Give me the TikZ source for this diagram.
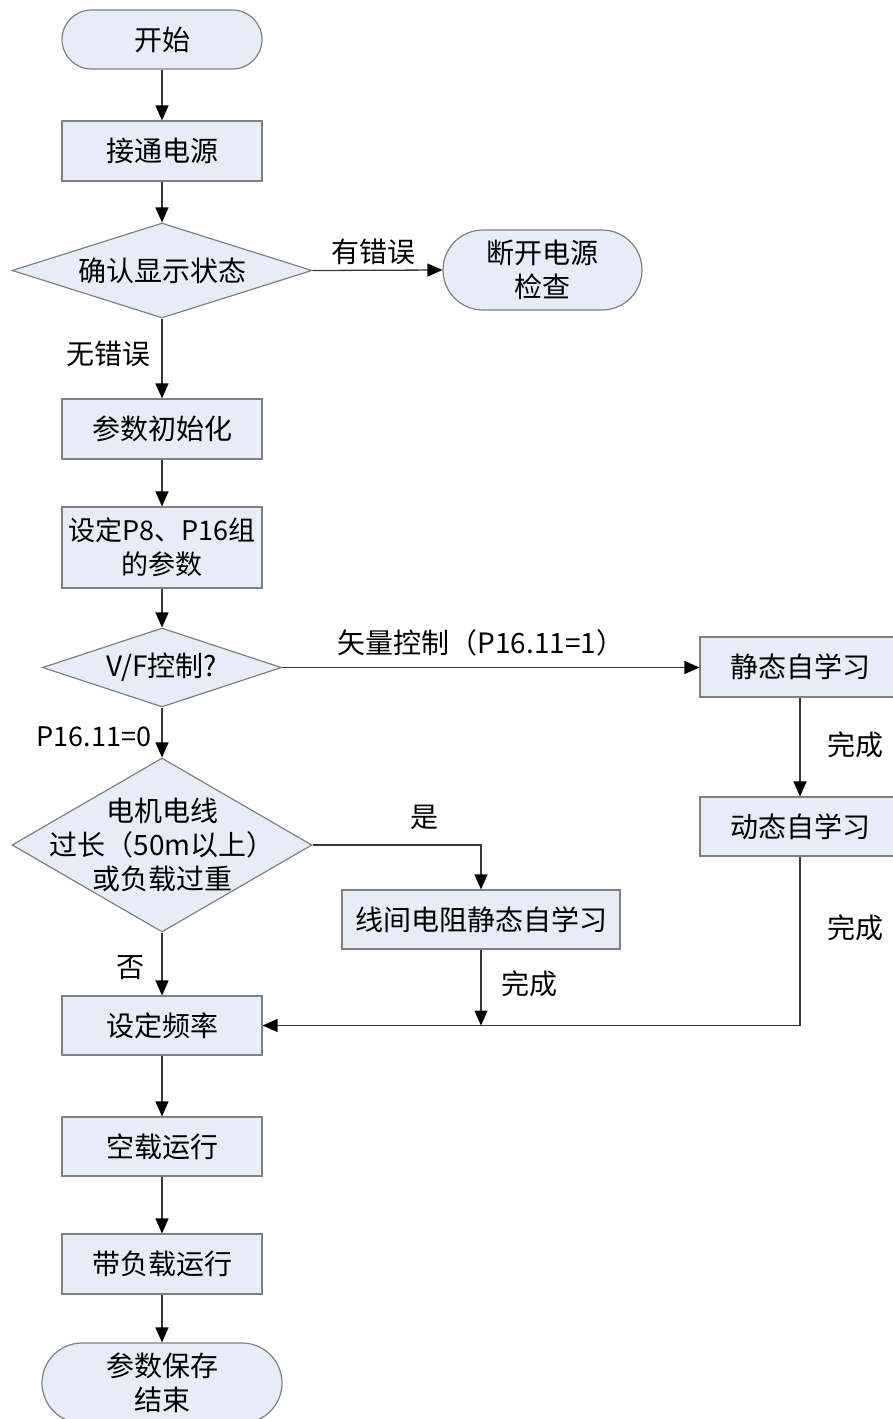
\documentclass[tikz,border=0pt]{standalone}
\usepackage{fontspec}
\newfontfamily\cjk{Noto Sans CJK SC}
\usetikzlibrary{arrows.meta,shapes.geometric}
\definecolor{boxfill}{RGB}{230,237,247}
\definecolor{boxline}{RGB}{128,128,128}
\definecolor{connc}{RGB}{55,55,55}
\begin{document}
\begin{tikzpicture}[x=1pt,y=-1pt,
  every node/.style={font=\cjk\fontsize{28}{34}\selectfont, text=black},
  proc/.style={draw=boxline, fill=boxfill, line width=1.2pt, minimum width=200pt, minimum height=60pt, inner sep=0pt, align=center},
  term/.style={proc},
  dia/.style={draw=boxline, fill=boxfill, line width=1.2pt, diamond, inner sep=0pt},
  conn/.style={draw=connc, line width=1.3pt, -{Triangle[length=15pt,width=13pt,color=black]}},
  lbl/.style={inner sep=0pt}
]
\useasboundingbox (0,0) rectangle (893,1419);

\node[term, minimum height=59pt, rounded corners=29.5pt] (start) at (162,39.5) {开始};
\node[proc] (power) at (162,151) {接通电源};
\node[dia, minimum width=300pt, minimum height=95pt, label=center:确认显示状态] (d1) at (162,270.5) {};
\node[term, minimum width=199pt, minimum height=80pt, rounded corners=40pt] (off) at (542.5,270) {断开电源\\检查};
\node[proc] (init) at (162,429) {参数初始化};
\node[proc, minimum height=81pt, font=\cjk\fontsize{27}{34}\selectfont] (setp) at (162,547.5) {设定P8、P16组\\的参数};
\node[dia, minimum width=239pt, minimum height=79pt, label=center:V/F控制?] (d2) at (162,667.5) {};
\node[proc] (static) at (800,667) {静态自学习};
\node[proc, minimum height=59pt] (dyn) at (800,826.5) {动态自学习};
\node[dia, minimum width=300pt, minimum height=174pt, label={[align=center]center:电机电线\\过长（50m以上）\\或负载过重}] (d3) at (162,845) {};
\node[proc, minimum width=278pt, minimum height=59pt] (wire) at (481,919.5) {线间电阻静态自学习};
\node[proc, minimum height=59pt] (freq) at (162,1025.5) {设定频率};
\node[proc, minimum height=59pt] (noload) at (162,1146.5) {空载运行};
\node[proc] (load) at (162,1264) {带负载运行};
\node[term, minimum width=240pt, minimum height=80pt, rounded corners=40pt] (fin) at (162,1383) {参数保存\\结束};

\node[lbl] (l1) at (373,252) {有错误};
\node[lbl] (l2) at (108,354) {无错误};
\node[lbl] (l3) at (481,643) {矢量控制（P16.11=1）};
\node[lbl, font=\cjk\fontsize{27}{34}\selectfont] (l4) at (94,737) {P16.11=0};
\node[lbl] (l5) at (855,745) {完成};
\node[lbl] (l6) at (424,817) {是};
\node[lbl] (l7) at (855,928) {完成};
\node[lbl] (l8) at (529,984) {完成};
\node[lbl] (l9) at (130,968) {否};

\draw[conn] (start) -- (power);
\draw[conn] (power) -- (d1);
\draw[conn] (d1.east) -- (off.west);
\draw[conn] (d1.south) -- (init.north);
\draw[conn] (init) -- (setp);
\draw[conn] (setp.south) -- (d2.north);
\draw[conn] (d2.east) -- (d2.east -| static.west);
\draw[conn] (static) -- (dyn);
\draw[conn] (d2.south) -- (d3.north);
\draw[conn] (d3.east) -| (wire.north);
\draw[conn] (d3.south) -- (freq.north);
\coordinate (join) at (wire.south |- freq.east);
\draw[conn] (wire.south) -- (join);
\draw[conn] (dyn.south) |- (freq.east);
\draw[conn] (freq) -- (noload);
\draw[conn] (noload) -- (load);
\draw[conn] (load) -- (fin);
\end{tikzpicture}
\end{document}
